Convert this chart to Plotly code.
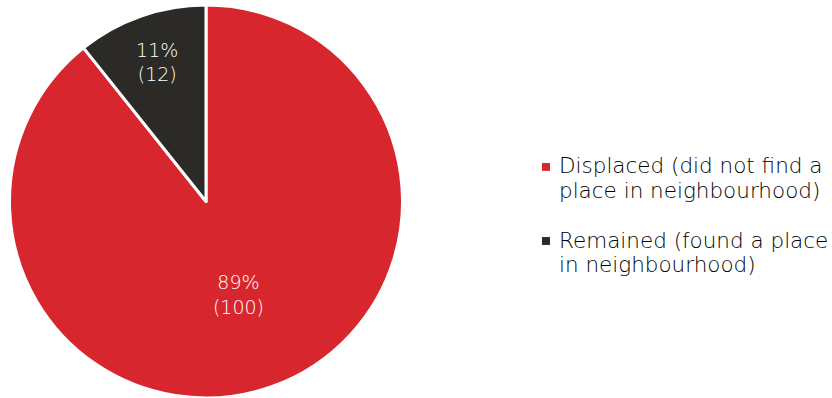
import plotly.graph_objects as go

labels = ["Displaced (did not find a place in neighbourhood)", "Remained (found a place in neighbourhood)"]
legend_lines = [["Displaced (did not find a", "place in neighbourhood)"],
                ["Remained (found a place", "in neighbourhood)"]]
values = [100, 12]
percents = ["89%", "11%"]
colors = ["#D7262E", "#2B2A26"]

W, H = 832, 398
texts = [f"{p}<br>({v})" for p, v in zip(percents, values)]
FONT = "DejaVu Sans"

fig = go.Figure(go.Pie(
    labels=labels,
    values=values,
    text=texts,
    textinfo="text",
    hoverinfo="label+value+percent",
    textposition="inside",
    insidetextorientation="horizontal",
    textfont=dict(color="white", size=19, family=FONT, weight=200),
    marker=dict(colors=colors, line=dict(color="white", width=3)),
    sort=False,
    direction="clockwise",
    rotation=0,
    domain=dict(x=[0, 412/W], y=[0, 1]),
    showlegend=False,
))

# custom legend
text_x = 557
marker_x0, marker_size = 542, 8
line_h = 25
first_center = 163
annotations = []
shapes = []
for i, (lines, col) in enumerate(zip(legend_lines, colors)):
    y0 = first_center + i * 3 * line_h
    shapes.append(dict(type="rect", xref="paper", yref="paper",
                       x0=marker_x0 / W, x1=(marker_x0 + marker_size) / W,
                       y0=1 - (y0 + 1 + marker_size / 2) / H, y1=1 - (y0 + 1 - marker_size / 2) / H,
                       fillcolor=col, line=dict(width=0)))
    for j, ln in enumerate(lines):
        yc = y0 + j * line_h
        annotations.append(dict(text=ln, xref="paper", yref="paper",
                                x=text_x / W, y=1 - yc / H, xanchor="left", yanchor="middle",
                                showarrow=False,
                                font=dict(family=FONT, size=21.5, color="#000000", weight=200)))

fig.update_layout(
    width=W, height=H,
    margin=dict(l=0, r=0, t=5, b=0),
    paper_bgcolor="white",
    font=dict(family=FONT, size=20, color="#111111"),
    annotations=annotations,
    shapes=shapes,
)

fig.write_html("out.html")
